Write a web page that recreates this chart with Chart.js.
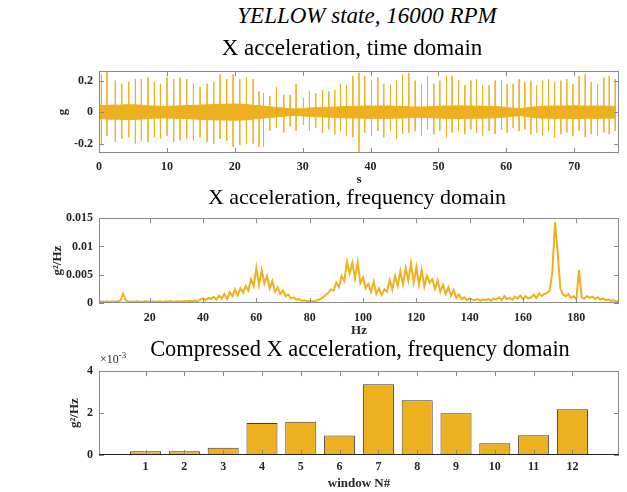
<!DOCTYPE html>
<html>
<head>
<meta charset="utf-8">
<script src="https://cdn.jsdelivr.net/npm/chart.js@4.4.0/dist/chart.umd.min.js"></script>
<style>
  body { margin: 0; width: 627px; height: 492px; background: #fff; position: relative; overflow: hidden;
         font-family: 'Liberation Serif', 'Times New Roman', serif; }
  canvas { position: absolute; left: 0; }
  .ttl { position: absolute; width: 600px; text-align: center; font-size: 22px; line-height: 1; color: #000; white-space: nowrap; }
  .exp { position: absolute; left: 100px; top: 351px; font-size: 12px; line-height: 1; color: #262626; }
</style>
</head>
<body>
<canvas id="timeChart" width="627" height="132" style="top:58px"></canvas>
<canvas id="freqChart" width="627" height="135" style="top:205px"></canvas>
<canvas id="barChart" width="627" height="134" style="top:358px"></canvas>

<div class="ttl" style="left:67px; top:4px; font-size:23px; font-style:italic;">YELLOW state, 16000 RPM</div>
<div class="ttl" style="left:52px; top:36px; font-size:23px;">X acceleration, time domain</div>
<div class="ttl" style="left:57px; top:186px;">X acceleration, frequency domain</div>
<div class="ttl" style="left:60px; top:338px; font-size:22.4px;">Compressed X acceleration, frequency domain</div>
<div class="exp">&times;10<sup style="font-size:9px">-3</sup></div>

<script>
// ---- time domain (g) ----
// noise band envelope, one value per second (0..76 s)
const bandTop = [0.040, 0.043, 0.045, 0.044, 0.047, 0.046, 0.045, 0.041, 0.038, 0.037,
  0.036, 0.038, 0.040, 0.041, 0.043, 0.045, 0.046, 0.048, 0.049, 0.050,
  0.051, 0.050, 0.047, 0.042, 0.038, 0.034, 0.030, 0.027, 0.022, 0.020,
  0.023, 0.026, 0.028, 0.030, 0.031, 0.033, 0.035, 0.036, 0.037, 0.038,
  0.039, 0.038, 0.039, 0.038, 0.037, 0.036, 0.033, 0.032, 0.033, 0.035,
  0.037, 0.038, 0.039, 0.040, 0.039, 0.038, 0.038, 0.037, 0.036, 0.034,
  0.030, 0.025, 0.022, 0.027, 0.033, 0.036, 0.038, 0.039, 0.038, 0.039,
  0.040, 0.039, 0.038, 0.039, 0.038, 0.037, 0.037];
const bandBottom = [-0.041, -0.044, -0.046, -0.045, -0.048, -0.047, -0.045, -0.042, -0.039, -0.038,
  -0.037, -0.039, -0.041, -0.042, -0.044, -0.046, -0.047, -0.049, -0.050, -0.051,
  -0.052, -0.051, -0.048, -0.043, -0.039, -0.035, -0.031, -0.028, -0.023, -0.021,
  -0.024, -0.027, -0.029, -0.031, -0.032, -0.034, -0.036, -0.037, -0.038, -0.039,
  -0.040, -0.039, -0.040, -0.039, -0.038, -0.037, -0.034, -0.033, -0.034, -0.036,
  -0.038, -0.039, -0.040, -0.041, -0.040, -0.039, -0.039, -0.038, -0.037, -0.035,
  -0.031, -0.026, -0.023, -0.028, -0.034, -0.037, -0.039, -0.040, -0.039, -0.040,
  -0.041, -0.040, -0.039, -0.040, -0.039, -0.038, -0.038];
// impact spikes: time (s), positive peak, negative peak
const spikeTime = [0.35, 1.18, 2.41, 3.35, 4.38, 5.36, 6.24, 7.22, 8.16, 9.05,
  10.02, 11.0, 11.94, 12.92, 13.91, 14.89, 15.92, 16.9, 17.84, 18.82,
  19.75, 20.74, 21.72, 22.7, 23.58, 24.23, 25.16, 26.14, 27.22, 28.15,
  29.03, 30.12, 31.0, 31.93, 32.92, 33.85, 34.73, 35.57, 36.45, 37.4,
  38.3, 39.15, 40.14, 41.07, 41.95, 42.94, 43.83, 44.71, 45.64, 46.57,
  47.51, 48.39, 49.32, 50.21, 51.19, 52.02, 52.96, 53.89, 54.78, 55.61,
  56.5, 57.47, 58.36, 59.3, 60.12, 61.01, 61.89, 62.73, 63.62, 64.45,
  65.34, 66.22, 67.11, 68.04, 68.92, 69.81, 70.73, 71.62, 72.5, 73.44,
  74.37, 75.16, 76.04];
const spikeHigh = [0.24, 0.27, 0.20, 0.18, 0.19, 0.21, 0.21, 0.22, 0.19, 0.18,
  0.22, 0.21, 0.22, 0.21, 0.18, 0.16, 0.18, 0.19, 0.24, 0.21,
  0.24, 0.21, 0.22, 0.21, 0.13, 0.12, 0.10, 0.16, 0.11, 0.11,
  0.18, 0.09, 0.13, 0.12, 0.14, 0.13, 0.14, 0.18, 0.17, 0.23,
  0.25, 0.23, 0.20, 0.22, 0.18, 0.17, 0.20, 0.24, 0.25, 0.20,
  0.18, 0.23, 0.18, 0.20, 0.23, 0.23, 0.20, 0.17, 0.20, 0.21,
  0.17, 0.17, 0.20, 0.20, 0.18, 0.18, 0.21, 0.19, 0.20, 0.17,
  0.20, 0.21, 0.19, 0.20, 0.21, 0.18, 0.23, 0.24, 0.19, 0.18,
  0.22, 0.23, 0.21];
const spikeLow = [-0.21, -0.15, -0.19, -0.17, -0.16, -0.20, -0.18, -0.19, -0.16, -0.17,
  -0.15, -0.19, -0.18, -0.17, -0.18, -0.16, -0.19, -0.20, -0.17, -0.18,
  -0.22, -0.21, -0.20, -0.20, -0.22, -0.22, -0.12, -0.10, -0.13, -0.09,
  -0.12, -0.08, -0.12, -0.10, -0.13, -0.11, -0.14, -0.12, -0.15, -0.16,
  -0.27, -0.13, -0.15, -0.12, -0.16, -0.12, -0.17, -0.14, -0.13, -0.12,
  -0.15, -0.11, -0.14, -0.12, -0.16, -0.13, -0.12, -0.14, -0.11, -0.13,
  -0.15, -0.12, -0.14, -0.11, -0.13, -0.10, -0.12, -0.11, -0.14, -0.13,
  -0.15, -0.12, -0.16, -0.14, -0.13, -0.15, -0.12, -0.16, -0.14, -0.15,
  -0.13, -0.14, -0.12];
const timeTicks = [0, 10, 20, 30, 40, 50, 60, 70];
const gTicks = [-0.2, 0, 0.2];

// ---- frequency domain, PSD in 1e-3 g^2/Hz, 1 Hz bins starting at 1 Hz ----
const psdMilli = [0.2, 0.25, 0.2, 0.3, 0.2, 0.25, 0.2, 0.3, 0.4,
  1.6, 0.5,
  0.2, 0.25, 0.2, 0.3, 0.25, 0.2, 0.3, 0.25, 0.2,
  0.3, 0.2, 0.25, 0.3, 0.2, 0.3, 0.25, 0.35, 0.2, 0.3,
  0.3, 0.25, 0.35, 0.3, 0.4, 0.3, 0.45, 0.35,
  0.6, 0.8, 0.5, 0.9, 0.7, 1.1, 0.6,
  1.3, 0.8, 1.6, 0.7, 1.9, 1.2, 2.4, 1.3, 2.6, 1.8,
  3.0, 2.2, 4.2, 3.0, 6.2, 3.2, 5.8, 3.5, 4.8, 2.6, 3.9, 2.0, 2.8, 1.6, 2.2,
  1.2, 1.5, 0.8, 1.0, 0.6, 0.7, 0.4, 0.5, 0.3, 0.35,
  0.3, 0.35, 0.5, 0.7, 1.0, 1.4, 1.8, 2.4,
  2.2, 3.6, 2.8, 4.8, 3.9, 7.3, 5.2, 7.1, 4.4, 7.2, 3.5, 4.5,
  2.6, 3.4, 2.0, 3.8, 1.6, 2.6, 1.4, 2.4,
  2.0, 4.1, 2.4, 4.8, 3.0, 5.6, 3.3, 6.2, 4.0, 7.0, 3.6, 6.4, 3.2, 5.8, 2.9, 4.8, 3.6,
  4.2, 2.5, 4.0, 2.0, 3.2, 1.6, 2.8, 1.3, 2.3, 0.9, 1.5, 0.7, 1.0, 0.5, 0.8,
  0.6, 0.5, 0.7, 0.4, 0.6, 0.5, 0.7, 0.4, 0.8, 0.6, 1.0, 0.5, 1.2, 0.7, 0.9, 0.6, 1.1, 0.8, 1.3, 0.7,
  1.2, 0.8, 1.0, 1.5, 0.9, 1.7, 1.2, 1.6, 1.8, 2.2,
  5.5, 14.3, 9.0, 2.6, 1.5,
  1.2, 1.6, 0.9, 1.2, 0.7,
  5.8, 1.0,
  0.8, 1.2, 0.9, 1.1, 0.7, 1.0, 0.6, 0.8, 0.5, 0.6, 0.4, 0.5, 0.3, 0.2];
const freqTicks = [20, 40, 60, 80, 100, 120, 140, 160, 180];
const psdTicks = [0, 0.005, 0.01, 0.015];

// ---- compressed spectrum, 12 windows, 1e-3 g^2/Hz ----
const windows = [1, 2, 3, 4, 5, 6, 7, 8, 9, 10, 11, 12];
const windowPsd = [0.18, 0.18, 0.35, 1.53, 1.59, 0.93, 3.38, 2.61, 1.99, 0.56, 0.94, 2.18];
const windowPsdTicks = [0, 2, 4];

const YELLOW = '#EDB120';
const FONT = "'Liberation Serif', 'Times New Roman', serif";
const tickFont = { family: FONT, size: 12, weight: 'bold' };
const titleFont = { family: FONT, size: 13, weight: 'bold' };
const TEXT = '#262626';

// MATLAB-like box with inward ticks on all four sides
const boxTicks = {
  id: 'boxTicks',
  afterDatasetsDraw(chart, args, opts) {
    const { ctx, chartArea: a, scales } = chart;
    const len = 5;
    ctx.save();
    ctx.strokeStyle = '#8a8a8a';
    ctx.lineWidth = 1;
    ctx.beginPath();
    scales.x.ticks.forEach(t => {
      const px = Math.round(scales.x.getPixelForValue(t.value)) + 0.5;
      ctx.moveTo(px, a.bottom); ctx.lineTo(px, a.bottom - len);
      ctx.moveTo(px, a.top); ctx.lineTo(px, a.top + len);
    });
    scales.y.ticks.forEach(t => {
      const py = Math.round(scales.y.getPixelForValue(t.value)) + 0.5;
      ctx.moveTo(a.left, py); ctx.lineTo(a.left + len, py);
      ctx.moveTo(a.right, py); ctx.lineTo(a.right - len, py);
    });
    ctx.stroke();
    ctx.strokeRect(Math.round(a.left) + 0.5, Math.round(a.top) + 0.5,
      Math.round(a.right - a.left) - 1, Math.round(a.bottom - a.top) - 1);
    if (opts && opts.baseline) {
      const y0 = Math.round(scales.y.getPixelForValue(0)) - 0.5;
      ctx.strokeStyle = '#262626';
      ctx.beginPath();
      ctx.moveTo(a.left, y0); ctx.lineTo(a.right, y0);
      ctx.stroke();
    }
    ctx.restore();
  }
};

function xAxis(min, max, ticks, title, pad, titlePad) {
  return {
    type: 'linear', min, max, offset: false,
    grid: { display: false, drawTicks: false, offset: false },
    border: { display: false },
    afterBuildTicks: s => { s.ticks = ticks.map(v => ({ value: v })); },
    afterFit: s => { s.height = 37; },
    ticks: { font: tickFont, color: TEXT, padding: pad, maxRotation: 0, autoSkip: false,
             callback: v => String(v) },
    title: { display: true, text: title, font: titleFont, color: TEXT, padding: { top: 0, bottom: titlePad } }
  };
}
function yAxis(min, max, ticks, title, titleX) {
  return {
    min, max,
    grid: { display: false, drawTicks: false },
    border: { display: false },
    afterBuildTicks: s => { s.ticks = ticks.map(v => ({ value: v })); },
    afterFit: s => { s.width = 99; },
    ticks: { font: tickFont, color: TEXT, padding: 6, autoSkip: false, callback: v => String(v) },
    title: { display: true, text: title, font: titleFont, color: TEXT, padding: { top: titleX - 7.8, bottom: 0 } }
  };
}
const common = {
  responsive: false, animation: false, devicePixelRatio: 1,
  events: [],
  plugins: { legend: { display: false }, tooltip: { enabled: false } }
};

// time domain chart
const spikePts = [];
spikeTime.forEach((t, i) => {
  spikePts.push({ x: t, y: spikeHigh[i] }, { x: t, y: spikeLow[i] }, { x: t, y: null });
});
new Chart(document.getElementById('timeChart'), {
  type: 'line',
  data: {
    datasets: [
      { data: bandTop.map((v, i) => ({ x: i, y: v })), borderColor: YELLOW, backgroundColor: YELLOW,
        borderWidth: 1, pointRadius: 0, fill: '+1', tension: 0 },
      { data: bandBottom.map((v, i) => ({ x: i, y: v })), borderColor: YELLOW,
        borderWidth: 1, pointRadius: 0, fill: false, tension: 0 },
      { data: spikePts, borderColor: 'rgba(237,177,32,0.9)', borderWidth: 1, pointRadius: 0,
        spanGaps: false, fill: false, tension: 0 }
    ]
  },
  options: Object.assign({}, common, {
    layout: { padding: { top: 6, right: 8, left: 0, bottom: 0 } },
    scales: {
      x: xAxis(0, 76.6, timeTicks, 's', 7, 3),
      y: yAxis(-0.26, 0.26, gTicks, 'g', 63)
    }
  }),
  plugins: [boxTicks]
});

// frequency domain chart
new Chart(document.getElementById('freqChart'), {
  type: 'line',
  data: {
    datasets: [{
      data: psdMilli.map((v, i) => ({ x: i + 1, y: v / 1000 })),
      borderColor: YELLOW, borderWidth: 2, pointRadius: 0, fill: false, tension: 0
    }]
  },
  options: Object.assign({}, common, {
    layout: { padding: { top: 8, right: 8, left: 0, bottom: 0 } },
    scales: {
      x: xAxis(1, 196, freqTicks, 'Hz', 8, 2),
      y: yAxis(0, 0.015, psdTicks, 'g\u00B2/Hz', 58)
    }
  }),
  plugins: [boxTicks]
});

// compressed bar chart
new Chart(document.getElementById('barChart'), {
  type: 'bar',
  data: {
    datasets: [{
      data: windows.map((w, i) => ({ x: w, y: windowPsd[i] })),
      backgroundColor: YELLOW, borderColor: '#3c3c3c', borderWidth: 1, borderSkipped: false,
      barPercentage: 0.8, categoryPercentage: 1
    }]
  },
  options: Object.assign({}, common, {
    layout: { padding: { top: 8, right: 8, left: 0, bottom: 0 } },
    scales: {
      x: xAxis(-0.2, 13.2, windows, 'window N#', 5, 1),
      y: yAxis(0, 4, windowPsdTicks, 'g\u00B2/Hz', 75)
    },
    plugins: Object.assign({}, common.plugins, { boxTicks: { baseline: true } })
  }),
  plugins: [boxTicks]
});
</script>
</body>
</html>
